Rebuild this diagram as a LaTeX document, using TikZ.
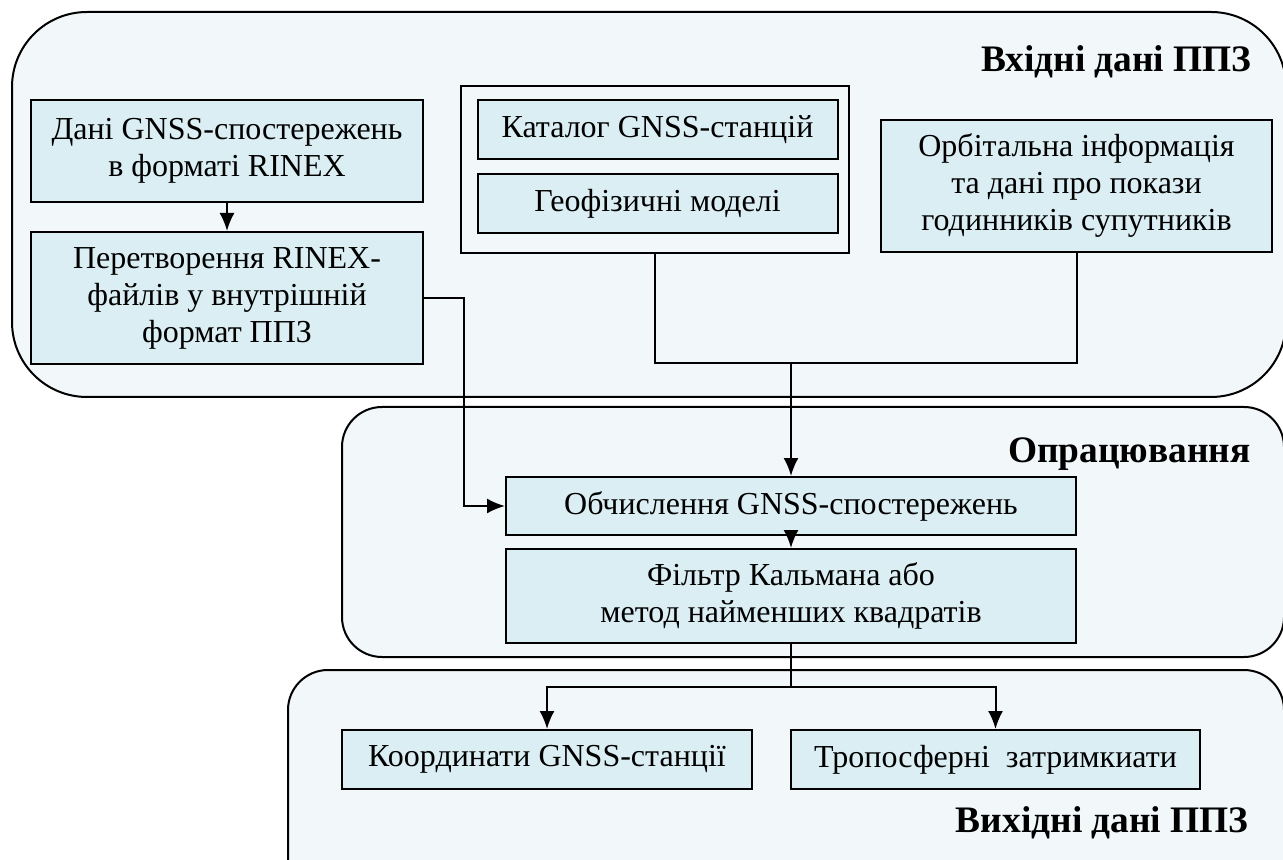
\documentclass[tikz,border=0pt]{standalone}
\usepackage{fontspec}
\setmainfont{Liberation Serif}
\usetikzlibrary{arrows.meta}
\definecolor{groupbg}{HTML}{F2F7FA}
\definecolor{boxbg}{HTML}{DAEEF3}

\begin{document}
\begin{tikzpicture}[x=0.5pt,y=-0.5pt,
    group/.style={draw,line width=1pt,fill=groupbg},
    block/.style={draw,line width=1pt,fill=boxbg,align=center,inner sep=0pt,
      font=\fontsize{16}{18.5}\selectfont},
    title/.style={anchor=base east,inner sep=0pt,font=\fontsize{18.7}{20}\selectfont\bfseries},
    link/.style={line width=1pt},
    arr/.style={link,-{Latex[length=9pt,width=7.5pt]}}]
  \useasboundingbox (0,0) rectangle (1283,860);
  \clip (0,0) rectangle (1283,860);

  % the three stages
  \draw[group,rounded corners=37.5pt] (12,12) rectangle (1286,397);
  \draw[group,rounded corners=20pt] (342,407) rectangle (1284,657);
  \draw[group,rounded corners=20pt] (288,670) rectangle (1284,900);

  \node[title] (tin)   at (1252,72)  {Вхідні дані ППЗ};
  \node[title] (tproc) at (1251,462) {Опрацювання};
  \node[title] (tout)  at (1249,832) {Вихідні дані ППЗ};

  % input data
  \node[block,minimum width=196pt,minimum height=51pt] (rinex) at (227,151)
    {Дані GNSS-спостережень\\в форматі RINEX};
  \node[block,minimum width=196pt,minimum height=66pt] (conv) at (227,298)
    {Перетворення RINEX-\\файлів у внутрішній\\формат ППЗ};
  \node[draw,line width=1pt,minimum width=194pt,minimum height=83.5pt] (frame) at (655,169.5) {};
  \node[block,minimum width=180pt,minimum height=29.5pt] (cat) at (657.5,129.5)
    {Каталог GNSS-станцій};
  \node[block,minimum width=180pt,minimum height=29.5pt] (geo) at (657.5,203.5)
    {Геофізичні моделі};
  \node[block,minimum width=195.5pt,minimum height=66pt] (orb) at (1076.5,186)
    {Орбітальна інформація\\та дані про покази\\годинників супутників};

  % processing
  \node[block,minimum width=285pt,minimum height=29pt] (calc) at (791,506)
    {Обчислення GNSS-спостережень};
  \node[block,minimum width=285pt,minimum height=47pt] (kalm) at (791,596)
    {Фільтр Кальмана або\\метод найменших квадратів};

  % output data
  \node[block,minimum width=205pt,minimum height=29.5pt] (coord) at (547,759.5)
    {Координати GNSS-станції};
  \node[block,minimum width=204.5pt,minimum height=29.5pt] (tropo) at (995.5,759.5)
    {Тропосферні\ \ затримкиати};

  \coordinate (bend)  at (464,298);
  \coordinate (join)  at (791,363);
  \coordinate (split) at (791,687);

  \draw[arr] (rinex) -- (conv);
  \draw[arr] (conv.east) -- (bend) |- (calc.west);
  \draw[link] (frame.south) |- (join);
  \draw[link] (orb.south) |- (join);
  \draw[arr] (join) -- (calc.north);
  \draw[arr] (calc) -- (kalm);
  \draw[link] (kalm.south) -- (split);
  \draw[arr] (split) -| (coord.north);
  \draw[arr] (split) -| (tropo.north);
\end{tikzpicture}
\end{document}
